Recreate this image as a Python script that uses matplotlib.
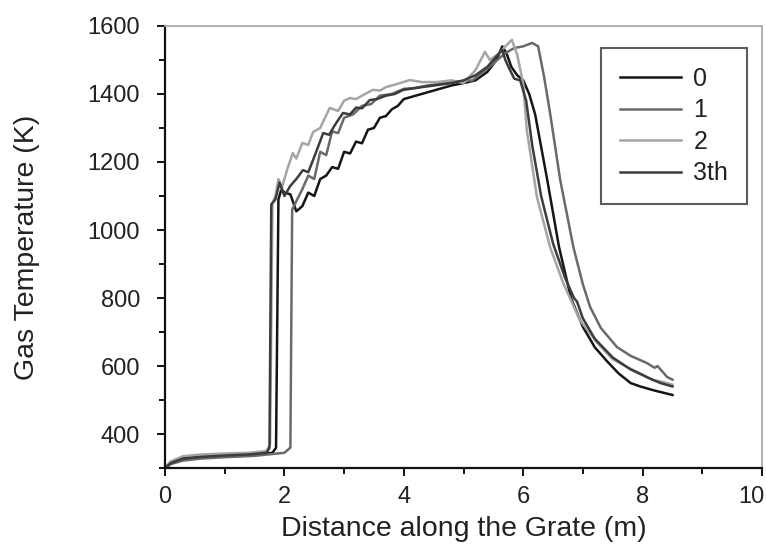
import numpy as np
import matplotlib.pyplot as plt
from matplotlib.ticker import MultipleLocator, FuncFormatter

plt.rcParams['font.family'] = ['Liberation Sans', 'DejaVu Sans']

# Gas temperature along the grate for the four cases
x_0 = [0, 0.1, 0.3, 0.6, 1.0, 1.4, 1.8, 1.86, 1.9, 1.95, 2.0, 2.1, 2.2, 2.3, 2.4,
       2.5, 2.6, 2.7, 2.8, 2.9, 3.0, 3.1, 3.2, 3.3, 3.4, 3.5, 3.6, 3.7, 3.8, 3.9,
       4.0, 4.2, 4.4, 4.6, 4.8, 5.0, 5.2, 5.4, 5.55, 5.65, 5.72, 5.8, 5.9, 6.0,
       6.1, 6.2, 6.4, 6.6, 6.8, 7.0, 7.2, 7.4, 7.6, 7.8, 7.96, 8.2, 8.5]
y_0 = [300, 318, 328, 332, 335, 338, 345, 360, 1090, 1120, 1110, 1105, 1055, 1070, 1110,
       1100, 1150, 1160, 1185, 1180, 1230, 1225, 1260, 1255, 1295, 1300, 1330, 1335, 1355, 1365,
       1385, 1395, 1405, 1415, 1425, 1432, 1440, 1465, 1500, 1540, 1520, 1480, 1455, 1440,
       1400, 1340, 1150, 950, 800, 715, 655, 615, 578, 550, 540, 528, 515]

x_1 = [0, 0.1, 0.3, 0.6, 1.0, 1.5, 2.0, 2.1, 2.13, 2.2, 2.3, 2.4, 2.5, 2.6, 2.7,
       2.8, 2.9, 3.0, 3.15, 3.3, 3.45, 3.6, 3.8, 4.0, 4.2, 4.4, 4.6, 4.8, 5.0, 5.15,
       5.3, 5.5, 5.7, 5.85, 6.0, 6.15, 6.25, 6.35, 6.45, 6.62, 6.84, 7.0, 7.12,
       7.3, 7.57, 7.8, 8.07, 8.2, 8.25, 8.41, 8.5]
y_1 = [300, 312, 322, 328, 332, 336, 345, 360, 1060, 1085, 1120, 1160, 1150, 1230, 1220,
       1290, 1285, 1330, 1340, 1365, 1370, 1395, 1400, 1415, 1418, 1425, 1430, 1435, 1438, 1440,
       1460, 1490, 1520, 1535, 1540, 1550, 1540, 1450, 1344, 1147, 950, 840, 774,
       712, 656, 630, 609, 595, 600, 568, 560]

x_2 = [0, 0.1, 0.3, 0.6, 1.0, 1.4, 1.7, 1.76, 1.8, 1.85, 1.9, 1.95, 2.05, 2.14, 2.2,
       2.3, 2.4, 2.48, 2.6, 2.68, 2.76, 2.9, 3.0, 3.1, 3.2, 3.3, 3.48, 3.6, 3.7, 3.9,
       4.1, 4.3, 4.55, 4.8, 5.0, 5.2, 5.36, 5.44, 5.6, 5.7, 5.81, 5.9, 6.0, 6.06,
       6.23, 6.45, 6.67, 6.95, 7.24, 7.5, 7.74, 8.0, 8.17, 8.3, 8.5]
y_2 = [300, 320, 335, 340, 343, 345, 350, 370, 1080, 1100, 1150, 1120, 1180, 1226, 1210,
       1256, 1250, 1288, 1300, 1330, 1359, 1350, 1380, 1388, 1385, 1395, 1412, 1410, 1420, 1430,
       1441, 1435, 1435, 1440, 1432, 1470, 1524, 1500, 1520, 1540, 1559, 1515, 1430, 1294,
       1097, 950, 844, 735, 668, 620, 597, 575, 559, 555, 545]

x_3 = [0, 0.1, 0.3, 0.6, 1.0, 1.4, 1.7, 1.75, 1.78, 1.85, 1.92, 2.0, 2.1, 2.2, 2.31,
       2.4, 2.5, 2.65, 2.75, 2.85, 2.98, 3.1, 3.2, 3.3, 3.43, 3.55, 3.7, 3.85, 3.99, 4.3,
       4.55, 4.8, 5.0, 5.2, 5.4, 5.55, 5.65, 5.7, 5.78, 5.85, 5.95, 6.05, 6.15, 6.3,
       6.5, 6.7, 6.85, 6.9, 7.0, 7.2, 7.5, 7.8, 8.1, 8.3, 8.5]
y_3 = [300, 315, 328, 333, 337, 340, 345, 360, 1075, 1090, 1140, 1100, 1130, 1150, 1176,
       1170, 1215, 1285, 1280, 1310, 1344, 1340, 1360, 1358, 1382, 1385, 1395, 1400, 1412, 1420,
       1426, 1432, 1440, 1455, 1480, 1510, 1530, 1500, 1470, 1445, 1440, 1380, 1250, 1100,
       960, 860, 800, 790, 740, 680, 625, 590, 565, 550, 540]

series = [("0", x_0, y_0, "#151515"),
          ("1", x_1, y_1, "#6a6a6a"),
          ("2", x_2, y_2, "#a5a5a5"),
          ("3th", x_3, y_3, "#3c3c3c")]

X_MAX = 10

fig = plt.figure(figsize=(7.66, 5.52), dpi=100)
ax = fig.add_axes([0.2154, 0.152, 0.7794, 0.801])

for label, xs, ys, color in series:
    ax.plot(xs, ys, color=color, lw=1.8, label=label)

ax.set_xlim(0, X_MAX)
ax.set_ylim(300, 1600)
ax.xaxis.set_major_locator(MultipleLocator(2))
ax.xaxis.set_minor_locator(MultipleLocator(1))
# the last x label sits against the figure edge, it is drawn separately below
ax.xaxis.set_major_formatter(FuncFormatter(lambda v, p: "" if v >= X_MAX else f"{v:g}"))
ax.yaxis.set_minor_locator(MultipleLocator(100))
ax.set_yticks([400, 600, 800, 1000, 1200, 1400, 1600])

for side in ("left", "bottom"):
    ax.spines[side].set_color("#111111")
    ax.spines[side].set_linewidth(1.6)
for side in ("top", "right"):
    ax.spines[side].set_color("#aaaaaa")
    ax.spines[side].set_linewidth(1.3)

ax.tick_params(which="both", direction="out", color="#111111", width=1.4,
               labelsize=17, labelcolor="#222222")
ax.tick_params(which="major", length=6)
ax.tick_params(which="minor", length=4)
ax.tick_params(axis="x", pad=7)
ax.tick_params(axis="y", pad=12)
ax.tick_params(top=False, right=False)

ax.annotate(f"{X_MAX}", xy=(X_MAX, 0), xycoords=("data", "axes fraction"),
            xytext=(2, -13), textcoords="offset points", ha="right", va="top",
            fontsize=17, color="#222222", annotation_clip=False)

ax.set_xlabel("Distance along the Grate (m)", fontsize=20.5, color="#222222", labelpad=6)
ax.set_ylabel("Gas Temperature (K)", fontsize=20.5, color="#222222", labelpad=34)

leg = ax.legend(loc="upper right", bbox_to_anchor=(0.975, 0.95), fontsize=18,
                frameon=True, fancybox=False, edgecolor="#333333",
                handlelength=2.45, handletextpad=0.48, labelspacing=0.3,
                borderpad=0.75, borderaxespad=0)
leg.get_frame().set_linewidth(1.5)
for text in leg.get_texts():
    text.set_color("#222222")

fig.savefig("out.png", dpi=100)
